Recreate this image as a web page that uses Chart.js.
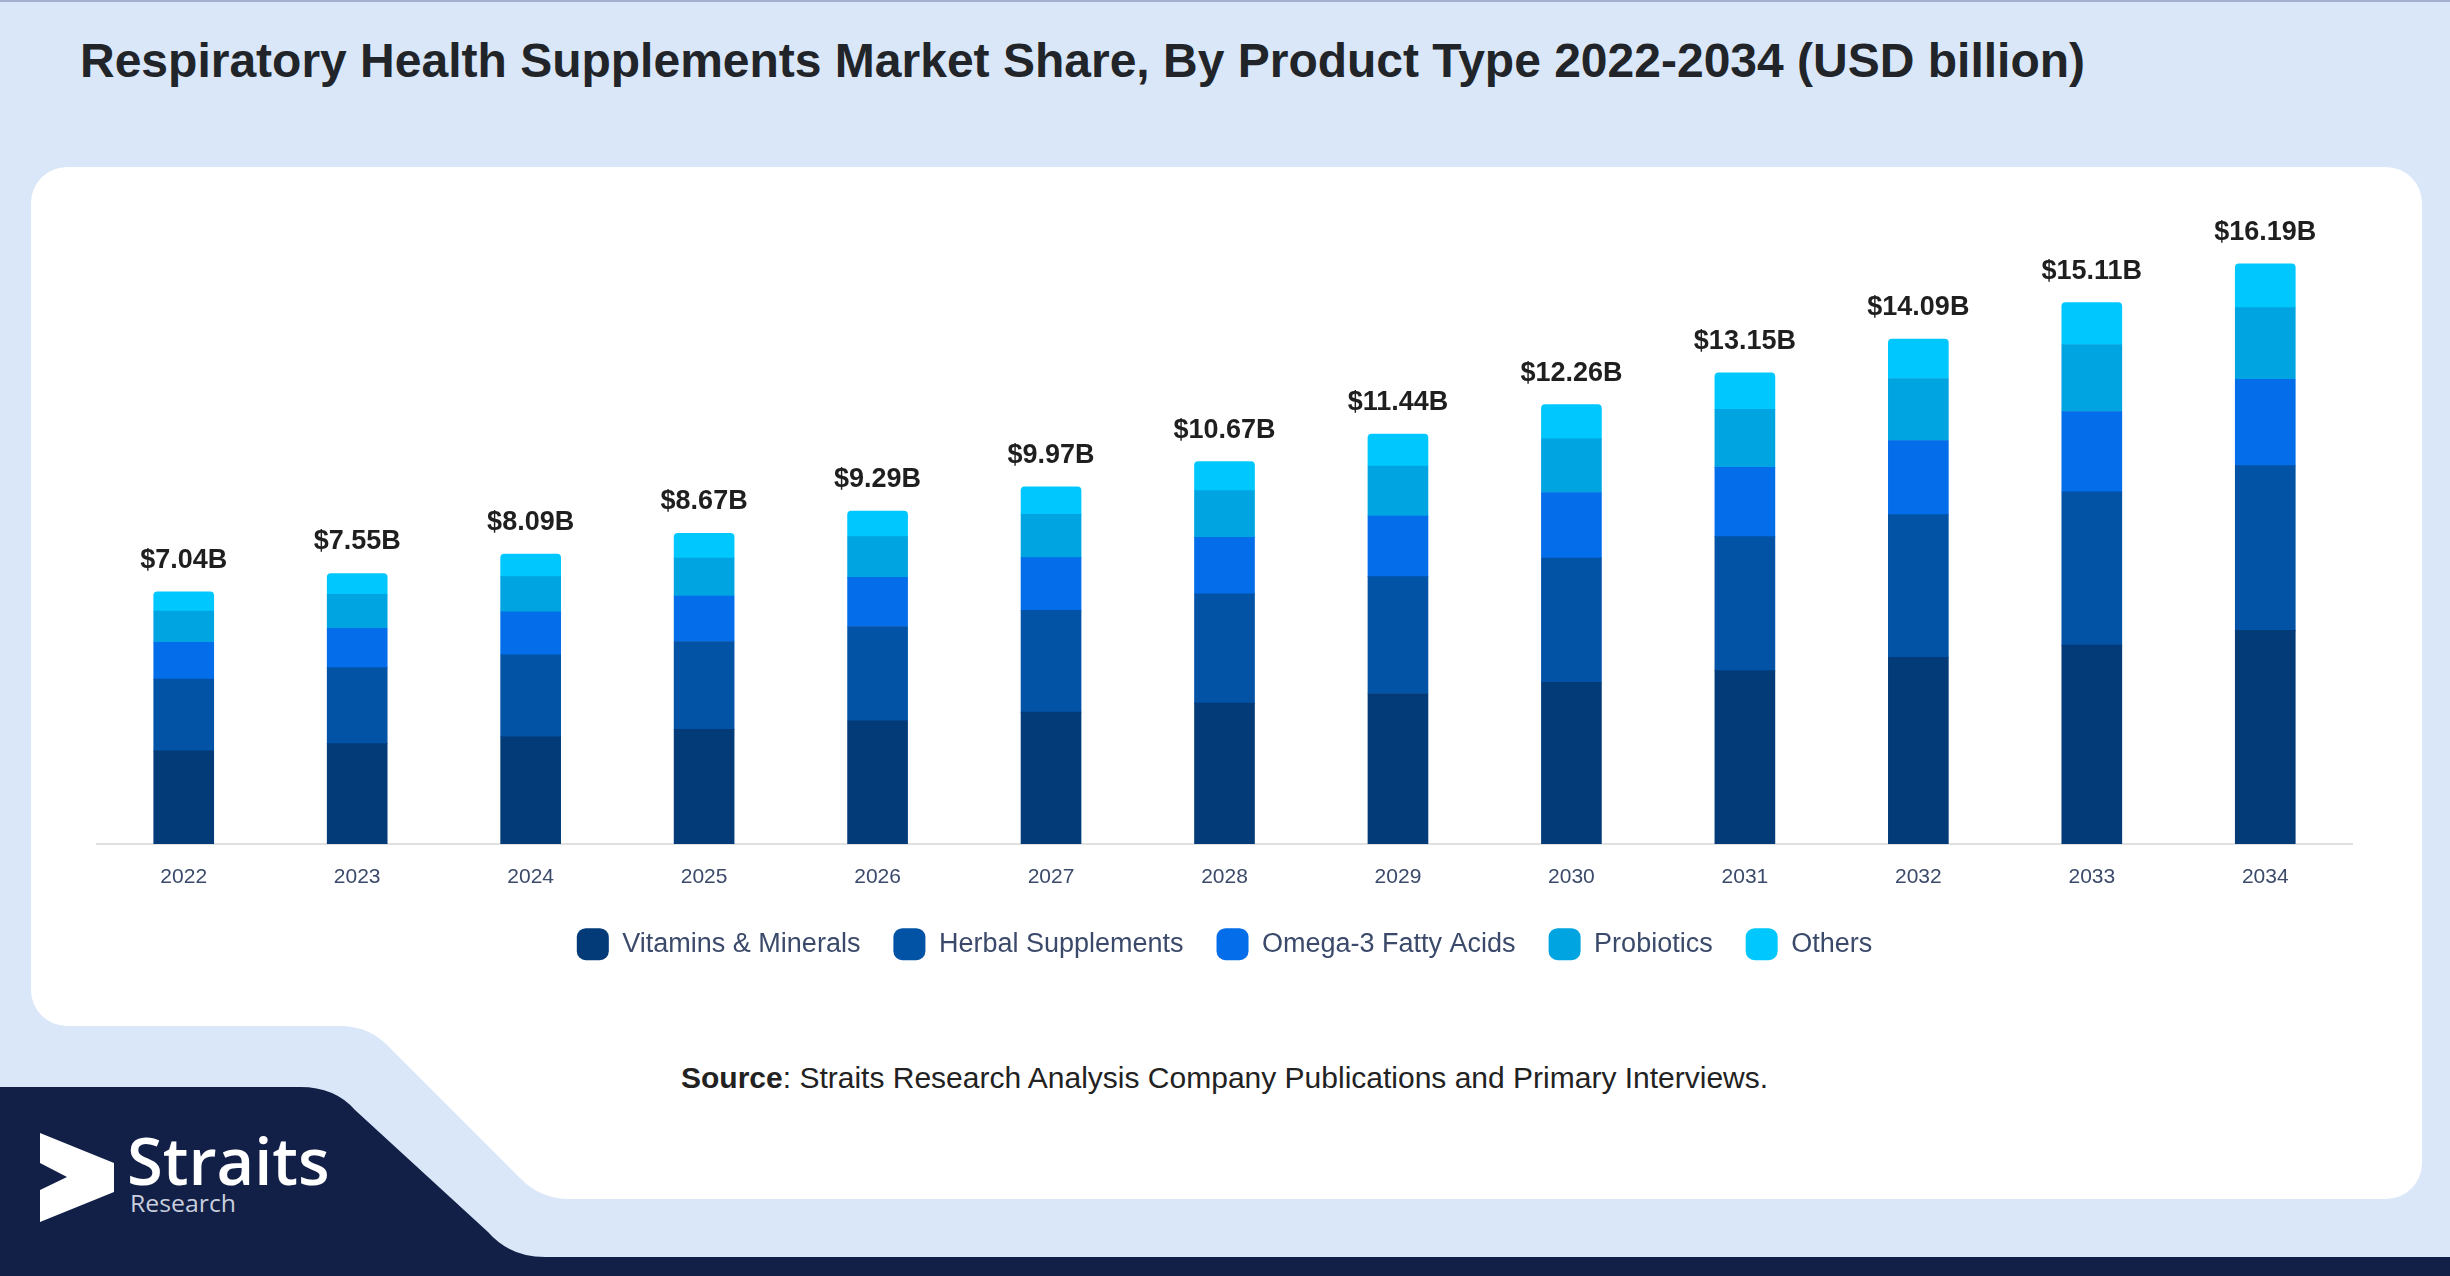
<!DOCTYPE html>
<html>
<head>
<meta charset="utf-8">
<script src="https://cdn.jsdelivr.net/npm/chart.js@4.4.1/dist/chart.umd.min.js"></script>
<style>
  html, body { margin: 0; padding: 0; }
  body { width: 2450px; height: 1276px; overflow: hidden; background: #dae7f8; position: relative; font-family: "Liberation Sans", Arial, sans-serif; }
  #bg { position: absolute; left: 0; top: 0; }
  #wrap { position: absolute; left: 31px; top: 167px; width: 2391px; height: 833px; }
</style>
</head>
<body>
<svg id="bg" width="2450" height="1276" viewBox="0 0 2450 1276" xmlns="http://www.w3.org/2000/svg">
  <rect x="0" y="0" width="2450" height="1276" fill="#dae7f8"/>
  <rect x="0" y="0" width="2450" height="2" fill="#a3b1cf"/>
  <path fill="#ffffff" d="M67,167 H2386 A36 36 0 0 1 2422,203 V1163 A36 36 0 0 1 2386,1199 H570 Q540,1199 520,1178 L390,1048 Q370,1026 340,1026 H67 A36 36 0 0 1 31,990 V203 A36 36 0 0 1 67,167 Z"/>
  <path fill="#121f47" d="M0,1087 H300 Q335,1087 355,1110 L488,1232 Q510,1257 545,1257 H2450 V1276 H0 Z"/>
  <polygon fill="#ffffff" points="40,1133 114,1163 114,1192 40,1222 40,1190 67,1177 40,1163"/>
  <text x="127" y="1185" font-family="Open Sans" font-weight="600" font-size="65" fill="#ffffff">Straits</text>
  <text x="130" y="1212" font-family="Open Sans" font-size="23" fill="#c9cfdc" textLength="106" lengthAdjust="spacingAndGlyphs">Research</text>
  <text x="80" y="77" font-family="Liberation Sans, Arial, sans-serif" font-weight="bold" font-size="48" fill="#212529">Respiratory Health Supplements Market Share, By Product Type 2022-2034 (USD billion)</text>
  <text x="681" y="1088" font-family="Liberation Sans, Arial, sans-serif" font-size="30" fill="#222222"><tspan font-weight="bold">Source</tspan>: Straits Research Analysis Company Publications and Primary Interviews.</text>
</svg>
<div id="wrap"><canvas id="c"></canvas></div>
<script>
const categories = ["2022","2023","2024","2025","2026","2027","2028","2029","2030","2031","2032","2033","2034"];
const vitaminsMinerals   = [2.60, 2.80, 2.99, 3.20, 3.44, 3.68, 3.93, 4.20, 4.51, 4.84, 5.21, 5.55, 5.96];
const herbalSupplements  = [2.00, 2.12, 2.29, 2.45, 2.63, 2.84, 3.05, 3.26, 3.47, 3.74, 3.98, 4.28, 4.60];
const omega3FattyAcids   = [1.03, 1.10, 1.20, 1.27, 1.37, 1.47, 1.58, 1.69, 1.83, 1.93, 2.07, 2.24, 2.41];
const probiotics         = [0.87, 0.95, 0.98, 1.06, 1.14, 1.21, 1.30, 1.40, 1.50, 1.62, 1.73, 1.87, 2.00];
const others             = [0.54, 0.58, 0.63, 0.69, 0.71, 0.77, 0.81, 0.89, 0.95, 1.02, 1.10, 1.17, 1.22];
const seriesNames = ["Vitamins & Minerals", "Herbal Supplements", "Omega-3 Fatty Acids", "Probiotics", "Others"];
const seriesColors = ["#033b78", "#0253a6", "#046de9", "#00a4e1", "#00c7fd"];

const FONT = "'Liberation Sans', Arial, sans-serif";

const totalsPlugin = {
  id: 'totals',
  afterDatasetsDraw(chart) {
    const ctx = chart.ctx;
    const xs = chart.scales.x, ys = chart.scales.y;
    ctx.save();
    ctx.font = "bold 27px " + FONT;
    ctx.fillStyle = "#1f1f1f";
    ctx.textAlign = "center";
    ctx.textBaseline = "alphabetic";
    chart.data.labels.forEach((lab, i) => {
      let total = 0;
      chart.data.datasets.forEach(ds => { total += ds.data[i]; });
      const x = xs.getPixelForValue(i);
      const y = ys.getPixelForValue(total);
      ctx.fillText("$" + total.toFixed(2) + "B", x, y - 24);
    });
    ctx.restore();
  }
};

const seriesData = [vitaminsMinerals, herbalSupplements, omega3FattyAcids, probiotics, others];
const datasets = seriesData.map((d, k) => ({
  label: seriesNames[k],
  data: d,
  backgroundColor: seriesColors[k],
  borderWidth: 0,
  borderRadius: k === seriesData.length - 1 ? {topLeft: 4, topRight: 4, bottomLeft: 0, bottomRight: 0} : 0,
  borderSkipped: false,
  barThickness: 60
}));

const chart = new Chart(document.getElementById('c'), {
  type: 'bar',
  data: { labels: categories, datasets },
  options: {
    responsive: true,
    maintainAspectRatio: false,
    animation: false,
    devicePixelRatio: 1,
    layout: { padding: { left: 66, right: 70, top: 32, bottom: 0 } },
    scales: {
      x: {
        stacked: true,
        grid: { display: false, drawTicks: false },
        border: { display: true, color: '#e0e0e0', width: 2 },
        ticks: { color: '#3b4a6b', font: { family: FONT, size: 21 }, padding: 21 },
        afterFit(scale) { scale.height -= 16; }
      },
      y: {
        stacked: true,
        display: false,
        min: 0,
        max: 18
      }
    },
    plugins: {
      legend: {
        position: 'bottom',
        align: 'center',
        labels: {
          boxWidth: 32,
          boxHeight: 32,
          useBorderRadius: true,
          borderRadius: 9,
          padding: 33,
          color: '#3b4a6b',
          font: { family: FONT, size: 27 }
        }
      },
      tooltip: { enabled: false }
    }
  },
  plugins: [totalsPlugin]
});

// align the plot area bottom with the reference baseline (y = 844 on the page)
const targetBottom = 844 - 167;
const diff = chart.chartArea.bottom - targetBottom;
if (Math.abs(diff) > 0.5) {
  chart.options.layout.padding.bottom = Math.max(0, chart.options.layout.padding.bottom + diff);
  chart.update('none');
}
</script>
</body>
</html>
